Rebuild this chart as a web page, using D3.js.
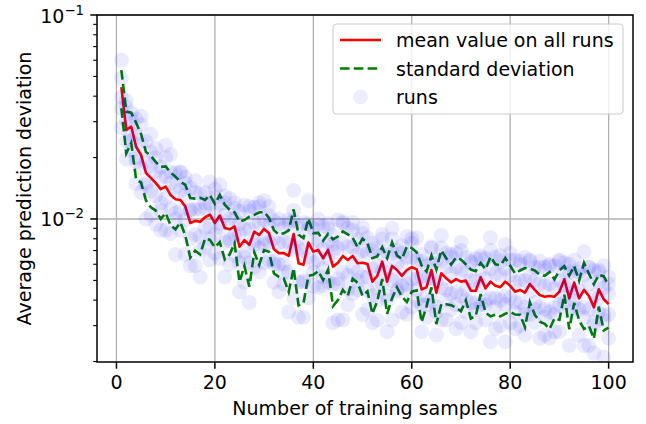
<!DOCTYPE html>
<html><head><meta charset="utf-8">
<script src="https://cdn.jsdelivr.net/npm/d3@7/dist/d3.min.js"></script>
<style>
html,body{margin:0;padding:0;background:#fff;}
text{font-family:"DejaVu Sans",sans-serif;fill:#000;}
</style></head>
<body><svg id="chart" width="646" height="424"></svg>
<script>
// ---- data ----
const samples = d3.range(1, 101);
const meanValues = [0.0443,0.0273,0.0284,0.0226,0.0206,0.0168,0.0159,0.0150,0.0140,0.0144,
0.0131,0.0125,0.0124,0.0115,0.00956,0.00979,0.0097,0.0102,0.0105,0.00956,
0.0104,0.00904,0.0089,0.0092,0.00731,0.00788,0.00746,0.00867,0.00835,0.00894,
0.00851,0.0071,0.0068,0.00681,0.00659,0.00844,0.00607,0.00596,0.00766,0.00692,
0.00705,0.00642,0.00705,0.00584,0.0061,0.00659,0.0063,0.00659,0.00607,0.0061,
0.00602,0.00493,0.00526,0.00618,0.00493,0.00589,0.00562,0.00526,0.00562,0.0058,
0.00567,0.00452,0.00463,0.00562,0.00435,0.00542,0.00512,0.00488,0.00507,0.00493,
0.00499,0.00445,0.00445,0.00518,0.00457,0.00493,0.0047,0.00463,0.00493,0.0047,
0.0044,0.00449,0.00435,0.0048,0.00449,0.00424,0.00416,0.00419,0.00416,0.0044,
0.00506,0.00408,0.00488,0.00408,0.00449,0.00419,0.00369,0.00452,0.00404,0.00383];
const stdValues = [0.0094,0.0063,0.0048,0.0070,0.0055,0.0045,0.0045,0.0040,0.0040,0.0037,
0.0038,0.0036,0.0028,0.0032,0.0031,0.0028,0.0030,0.0022,0.0026,0.0023,
0.0027,0.0027,0.0022,0.0016,0.0024,0.0020,0.0028,0.0018,0.0024,0.0019,
0.0016,0.0017,0.0016,0.0017,0.0022,0.0027,0.0023,0.0021,0.0024,0.0016,
0.0015,0.0014,0.0014,0.0021,0.0021,0.0021,0.0021,0.0015,0.0012,0.0019,
0.0016,0.0015,0.0013,0.0011,0.0015,0.0018,0.0010,0.0011,0.0017,0.0014,
0.0012,0.0014,0.0009,0.0010,0.0013,0.0016,0.0013,0.0011,0.0014,0.0014,
0.0010,0.0012,0.0011,0.0009,0.0011,0.0016,0.0013,0.0013,0.0015,0.0012,
0.0010,0.0011,0.0014,0.0009,0.0011,0.0011,0.0011,0.0013,0.0009,0.0012,
0.0008,0.0012,0.0010,0.0009,0.0016,0.0012,0.0011,0.0008,0.0012,0.0009];
// individual runs, in units of 1e-4
const runA = [600,355,332,310,290,240,213,222,180,200,207,168,169,160,142,154,133,135,152,128,
147,120,126,113,109,117,109,114,115,123,104,98,100,90,99,138,93,96,123,90,
94,92,90,83,99,97,90,96,79,91,81,76,72,84,69,90,70,74,82,76,
81,67,59,73,63,83,68,67,68,77,65,61,64,64,64,81,65,66,75,63,
63,60,65,62,58,62,58,59,59,62,61,60,63,57,69,58,56,56,59,52];
const runB = [349,197,217,149,135,100,105,94,88,88,85,67,88,67,59,59,52,73,63,68,
64,52,60,66,44,49,39,58,55,61,63,49,44,48,35,41,33,33,41,47,
46,47,49,31,32,32,38,43,45,34,36,31,32,48,28,32,44,35,34,37,
40,28,33,40,27,32,32,36,29,31,35,28,31,38,32,25,29,30,25,31,
29,30,27,34,31,26,27,26,28,28,39,24,37,27,24,24,22,35,21,26];
const runC = [490,305,308,261,234,190,182,170,160,162,150,143,138,131,111,112,112,113,118,107,
118,104,100,100,85,89,89,96,96,99,93,80,76,77,77,98,72,70,89,77,
78,71,77,69,72,76,73,73,67,70,68,57,59,67,57,68,61,58,65,65,
63,52,51,61,50,62,58,54,58,56,55,50,50,56,51,57,54,53,57,53,
49,50,50,52,50,48,47,48,46,50,55,47,54,45,53,48,42,49,46,43];
const runD = [396,241,260,191,178,146,137,130,120,126,112,107,110,99,80,84,82,91,92,84,
91,77,78,84,61,69,61,78,72,80,77,62,60,60,55,71,49,49,65,61,
63,57,64,48,51,55,53,58,55,52,52,42,46,56,42,50,51,47,48,51,
51,38,42,51,37,46,45,43,44,42,45,39,39,47,40,41,41,40,42,41,
39,39,37,44,39,37,36,35,37,38,47,35,44,36,37,36,31,41,34,34];
const runE = [280,380,240,200,320,150,260,200,110,230,170,100,170,150,110,135,70,120,80,140,
95,130,80,120,95,65,115,75,120,75,115,60,95,55,95,110,80,50,95,55,
100,52,95,75,48,95,45,88,50,85,45,70,40,80,40,80,45,68,45,80,
45,62,38,72,35,72,40,65,38,70,40,62,36,66,38,70,37,62,38,68,
35,62,34,63,36,58,33,60,34,63,42,55,40,55,33,58,30,55,32,48];
const runs = [runA, runB, runC, runD, runE];
const xTicks = [0, 20, 40, 60, 80, 100];
const yMajor = [0.1, 0.01];
const yMinor = [0.002,0.003,0.004,0.005,0.006,0.007,0.008,0.009,0.02,0.03,0.04,0.05,0.06,0.07,0.08,0.09];
const legendLabels = ["mean value on all runs", "standard deviation", "runs"];

// ---- layout ----
const svg = d3.select("#chart");
const L = 97, R = 633, T = 15, B = 362;
const x = d3.scaleLinear().domain([-3.95, 104.95]).range([L, R]);
const y = d3.scaleLog().domain([0.00199, 0.1]).range([B, T]);
const FS = 19;

svg.append("defs").append("clipPath").attr("id","clip")
  .append("rect").attr("x",L).attr("y",T).attr("width",R-L).attr("height",B-T);

// grid
const grid = svg.append("g");
grid.selectAll("line.gx").data(xTicks).join("line")
  .attr("x1",d=>x(d)).attr("x2",d=>x(d)).attr("y1",T).attr("y2",B)
  .attr("stroke","#b0b0b0").attr("stroke-width",1.3);
grid.selectAll("line.gy").data(yMajor).join("line")
  .attr("y1",d=>y(d)).attr("y2",d=>y(d)).attr("x1",L).attr("x2",R)
  .attr("stroke","#b0b0b0").attr("stroke-width",1.3);

const plot = svg.append("g").attr("clip-path","url(#clip)");
const line = vals => d3.line().x((d,i)=>x(samples[i])).y(d=>y(d))(vals);
plot.append("path").attr("d", line(meanValues)).attr("fill","none")
  .attr("stroke","#ff0000").attr("stroke-width",2.6).attr("stroke-linejoin","round");
const upper = meanValues.map((m,i)=>m+stdValues[i]);
const lower = meanValues.map((m,i)=>m-stdValues[i]);
[upper, lower].forEach(v=>{
  plot.append("path").attr("d", line(v)).attr("fill","none")
    .attr("stroke","#008000").attr("stroke-width",2.6).attr("stroke-dasharray","9.6,4.2");
});
runs.forEach(run=>{
  plot.append("g").selectAll("circle").data(run).join("circle")
    .attr("cx",(d,i)=>x(samples[i])).attr("cy",d=>y(d*1e-4)).attr("r",7.5)
    .attr("fill","#0000ff").attr("fill-opacity",0.08);
});

// spines
svg.append("rect").attr("x",L).attr("y",T).attr("width",R-L).attr("height",B-T)
  .attr("fill","none").attr("stroke","#000").attr("stroke-width",1.5);

// x axis ticks
const xa = svg.append("g");
xa.selectAll("line").data(xTicks).join("line")
  .attr("x1",d=>x(d)).attr("x2",d=>x(d)).attr("y1",B).attr("y2",B+6.7)
  .attr("stroke","#000").attr("stroke-width",1.5);
xa.selectAll("text").data(xTicks).join("text")
  .attr("x",d=>x(d)).attr("y",B+27).attr("text-anchor","middle")
  .attr("font-size",FS).text(d=>d);
// y axis ticks
const ya = svg.append("g");
ya.selectAll("line.maj").data(yMajor).join("line")
  .attr("x1",L-6.7).attr("x2",L).attr("y1",d=>y(d)).attr("y2",d=>y(d))
  .attr("stroke","#000").attr("stroke-width",1.5);
ya.selectAll("line.min").data(yMinor).join("line")
  .attr("x1",L-3.8).attr("x2",L).attr("y1",d=>y(d)).attr("y2",d=>y(d))
  .attr("stroke","#000").attr("stroke-width",1.1);
ya.selectAll("text").data(yMajor).join("text")
  .attr("x",L-13).attr("y",d=>y(d)+7.5).attr("text-anchor","end")
  .attr("font-size",FS)
  .each(function(d){
    const t = d3.select(this);
    const e = Math.round(Math.log10(d));
    t.append("tspan").text("10");
    t.append("tspan").attr("dy",-8).attr("font-size",13.3).text("\u2212"+Math.abs(e));
  });

// axis labels
svg.append("text").attr("x",(L+R)/2).attr("y",415).attr("text-anchor","middle")
  .attr("font-size",FS).text("Number of training samples");
svg.append("text").attr("transform",`translate(31,${(T+B)/2}) rotate(-90)`)
  .attr("text-anchor","middle").attr("font-size",FS).text("Average prediction deviation");

// legend
const lg = svg.append("g");
lg.append("rect").attr("x",333).attr("y",24).attr("width",290).attr("height",90).attr("rx",4)
  .attr("fill","#fff").attr("fill-opacity",0.8).attr("stroke","#cccccc").attr("stroke-width",1.1);
const rows = [40, 68.5, 97];
lg.append("line").attr("x1",340).attr("x2",381).attr("y1",rows[0]).attr("y2",rows[0])
  .attr("stroke","#ff0000").attr("stroke-width",2.6);
lg.append("line").attr("x1",340).attr("x2",381).attr("y1",rows[1]).attr("y2",rows[1])
  .attr("stroke","#008000").attr("stroke-width",2.6).attr("stroke-dasharray","9.6,4.2");
lg.append("circle").attr("cx",360.5).attr("cy",rows[2]).attr("r",7.5)
  .attr("fill","#0000ff").attr("fill-opacity",0.07);
lg.selectAll("text").data(legendLabels).join("text")
  .attr("x",396).attr("y",(d,i)=>rows[i]+7).attr("font-size",FS).text(d=>d);
</script></body></html>
